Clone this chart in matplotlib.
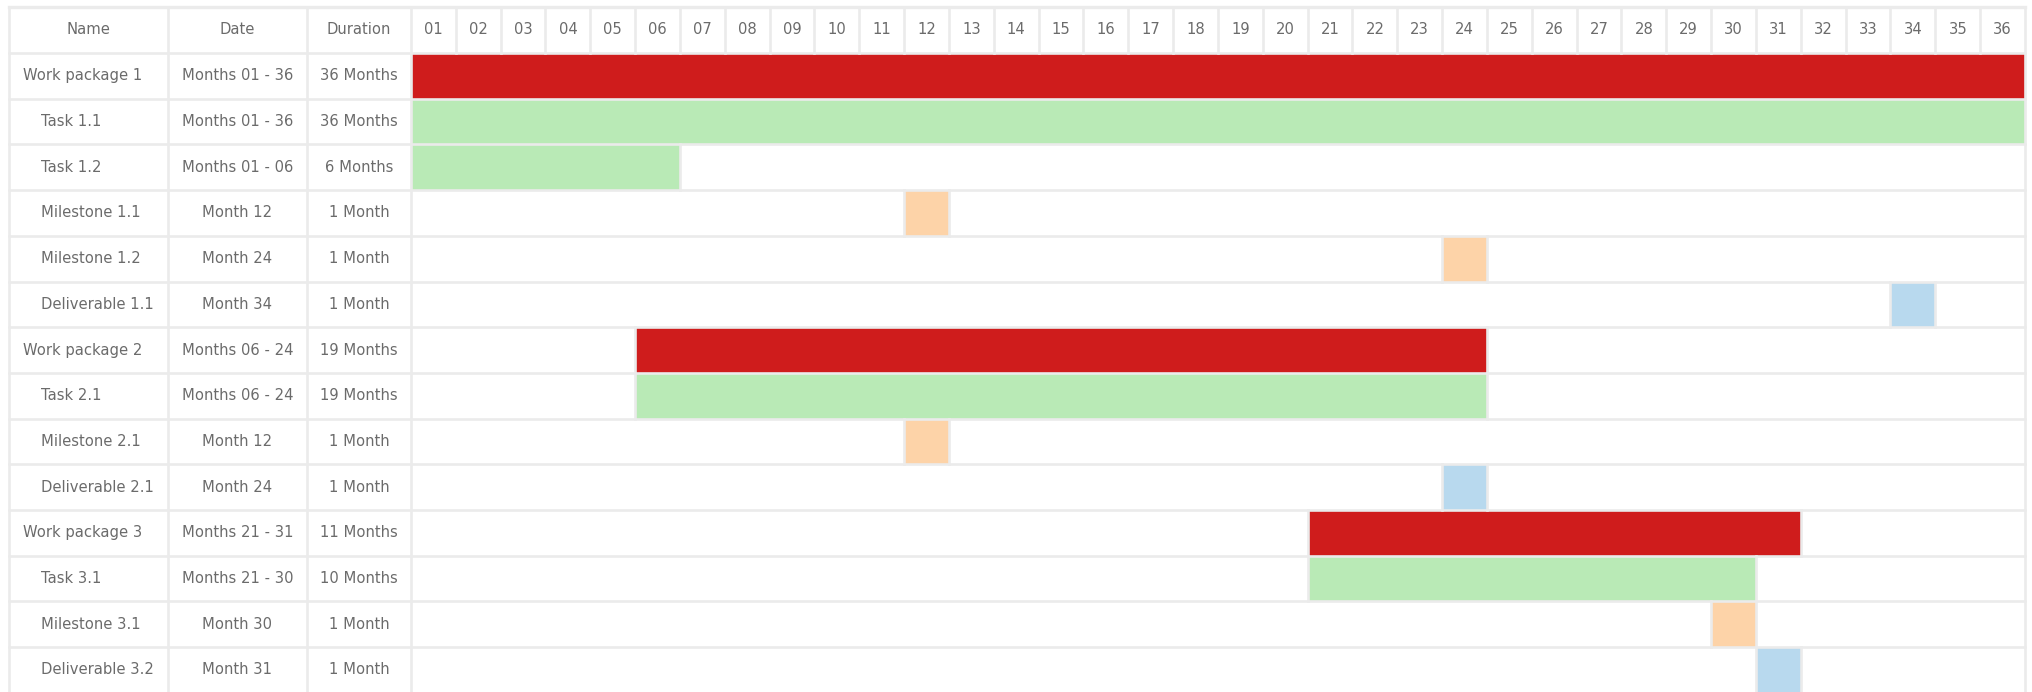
import matplotlib.pyplot as plt
from matplotlib.patches import Rectangle

# ---------------------------
# Data
# ---------------------------
names = ["Work package 1", "Task 1.1", "Task 1.2", "Milestone 1.1", "Milestone 1.2",
         "Deliverable 1.1", "Work package 2", "Task 2.1", "Milestone 2.1",
         "Deliverable 2.1", "Work package 3", "Task 3.1", "Milestone 3.1",
         "Deliverable 3.2"]
dates = ["Months 01 - 36", "Months 01 - 36", "Months 01 - 06", "Month 12", "Month 24",
         "Month 34", "Months 06 - 24", "Months 06 - 24", "Month 12", "Month 24",
         "Months 21 - 31", "Months 21 - 30", "Month 30", "Month 31"]
durations = ["36 Months", "36 Months", "6 Months", "1 Month", "1 Month", "1 Month",
             "19 Months", "19 Months", "1 Month", "1 Month", "11 Months", "10 Months",
             "1 Month", "1 Month"]
starts = [1, 1, 1, 12, 24, 34, 6, 6, 12, 24, 21, 21, 30, 31]
ends = [36, 36, 6, 12, 24, 34, 24, 24, 12, 24, 31, 30, 30, 31]
kinds = ["wp", "task", "task", "milestone", "milestone", "deliverable", "wp", "task",
         "milestone", "deliverable", "wp", "task", "milestone", "deliverable"]
headers = ["Name", "Date", "Duration"]
month_labels = ["%02d" % m for m in range(1, 37)]

colors = {"wp": "#cf1c1c", "task": "#b9eab6", "milestone": "#fdd3a8", "deliverable": "#b8d9ee"}
indent = {"wp": 23, "task": 41, "milestone": 41, "deliverable": 41}

# ---------------------------
# Layout (pixels)
# ---------------------------
W, H = 2033, 692
col_edges = [9, 168, 307, 411]
right = 2025
top = 7
head_h = 46
row_h = 45.7
n_months = len(month_labels)
month_w = (right - col_edges[3]) / n_months
grid_c = "#ebebeb"
text_c = "#6b6b6b"
fs = 10.6
lw = 1.9

fig = plt.figure(figsize=(W / 100, H / 100), dpi=100)
ax = fig.add_axes([0, 0, 1, 1])
ax.set_xlim(0, W)
ax.set_ylim(H, 0)
ax.axis("off")

body_top = top + head_h


def mx(m):
    return col_edges[3] + (m - 1) * month_w


# bars
for i in range(len(names)):
    y0 = body_top + i * row_h
    ax.add_patch(Rectangle((mx(starts[i]), y0), (ends[i] - starts[i] + 1) * month_w, row_h,
                           facecolor=colors[kinds[i]], edgecolor="none", zorder=1))

# horizontal grid lines
ax.plot([col_edges[0], right], [top - 0.5, top - 0.5], color=grid_c, lw=2.4, zorder=2)
for i in range(len(names) + 1):
    y = body_top + i * row_h
    ax.plot([col_edges[0], right], [y, y], color=grid_c, lw=lw, zorder=2)

# vertical grid lines
for x in col_edges + [right]:
    ax.plot([x, x], [top, H], color=grid_c, lw=lw, zorder=2)
for m in range(2, n_months + 1):
    ax.plot([mx(m), mx(m)], [top, body_top], color=grid_c, lw=lw, zorder=2)
for i in range(len(names)):
    y0 = body_top + i * row_h
    for m in (starts[i], ends[i] + 1):
        if 1 < m <= n_months:
            ax.plot([mx(m), mx(m)], [y0, y0 + row_h], color=grid_c, lw=lw, zorder=2)

# header text
hy = top + head_h / 2
for j, h in enumerate(headers):
    ax.text((col_edges[j] + col_edges[j + 1]) / 2, hy, h, ha="center", va="center",
            color=text_c, fontsize=fs, zorder=3)
for m, lab in enumerate(month_labels, start=1):
    ax.text(mx(m) + month_w / 2, hy, lab, ha="center", va="center",
            color=text_c, fontsize=fs, zorder=3)

# row text
for i in range(len(names)):
    yc = body_top + i * row_h + row_h / 2
    ax.text(indent[kinds[i]], yc, names[i], ha="left", va="center",
            color=text_c, fontsize=fs, zorder=3)
    ax.text((col_edges[1] + col_edges[2]) / 2, yc, dates[i], ha="center", va="center",
            color=text_c, fontsize=fs, zorder=3)
    ax.text((col_edges[2] + col_edges[3]) / 2, yc, durations[i], ha="center", va="center",
            color=text_c, fontsize=fs, zorder=3)

fig.savefig("out.png", dpi=100)
